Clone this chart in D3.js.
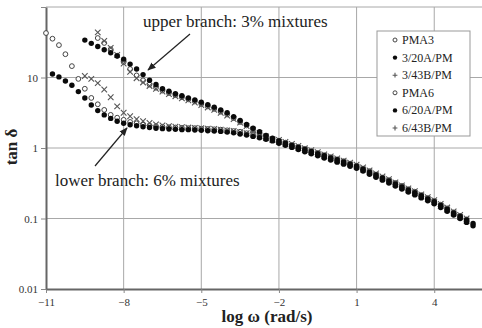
<!DOCTYPE html>
<html>
<head>
    <script src="https://d3js.org/d3.v7.min.js"></script>
    <style>
        body { margin: 0; background: #fff; }
    </style>
</head>
<body>
    <script>
        // shared log(omega) grid, rad/s
        const logW = [-11, -10.75, -10.5, -10.25, -10, -9.75, -9.5, -9.25, -9, -8.75, -8.5, -8.25,
            -8, -7.75, -7.5, -7.25, -7, -6.75, -6.5, -6.25, -6, -5.75, -5.5, -5.25,
            -5, -4.75, -4.5, -4.25, -4, -3.75, -3.5, -3.25, -3, -2.75, -2.5, -2.25,
            -2, -1.75, -1.5, -1.25, -1, -0.75, -0.5, -0.25, 0, 0.25, 0.5, 0.75,
            1, 1.25, 1.5, 1.75, 2, 2.25, 2.5, 2.75, 3, 3.25, 3.5, 3.75,
            4, 4.25, 4.5, 4.75, 5, 5.25, 5.5];

        // tan delta, aligned with logW (null = no measurement)
        const pma3 = [null, null, null, null, null, null, null, null,
            36.3, 30.9, 25.1, 20.4, 16.6, 13.2, 10.7, 9.12, 7.94, 7.16, 6.53, 6.03, 5.62, 5.25, 4.90, 4.57,
            4.22, 3.89, 3.59, 3.27, 2.99, 2.66, 2.34, 2.09, 1.84, 1.64, 1.48, 1.35,
            1.27, 1.19, 1.10, 1.04, 0.97, 0.90, 0.85, 0.79, 0.74, 0.69, 0.65, 0.60,
            0.56, 0.51, 0.47, 0.42, 0.38, 0.35, 0.32, 0.29, 0.26, 0.24, 0.215, 0.195,
            0.177, 0.157, 0.139, 0.122, 0.109, 0.097];
        const m3_20A = [null, null, null, null, null, null,
            33.9, 30.5, 27.5, 24.8, 22.4, 20.2, 18.2, 15.5, 13.2, 11.0, 9.12, 7.94, 6.92, 6.38, 5.89, 5.50, 5.13, 4.79,
            4.47, 4.12, 3.80, 3.47, 3.16, 2.79, 2.45, 2.16, 1.91, 1.70, 1.51, 1.38,
            1.26, 1.17, 1.09, 1.02, 0.95, 0.89, 0.83, 0.775, 0.725, 0.68, 0.635, 0.59,
            0.55, 0.50, 0.455, 0.415, 0.375, 0.34, 0.31, 0.28, 0.255, 0.232, 0.21, 0.19,
            0.173, 0.153, 0.136, 0.12, 0.107, 0.095, 0.085];
        const m3_43B = [null, null, null, null, null, null, null, null,
            43.7, 33.1, 26.3, 20.9, 15.8, 12.0, 9.77, 8.51, 7.59, 6.92, 6.31, 5.82, 5.43, 5.07, 4.73, 4.42,
            4.07, 3.76, 3.47, 3.16, 2.88, 2.57, 2.29, 2.04, 1.82, 1.62, 1.46, 1.33,
            1.30, 1.22, 1.14, 1.07, 0.99, 0.93, 0.87, 0.81, 0.76, 0.71, 0.66, 0.62,
            0.58, 0.53, 0.48, 0.435, 0.395, 0.36, 0.325, 0.295, 0.268, 0.244, 0.22, 0.20,
            0.182, 0.161, 0.143, 0.126, 0.112, 0.10];
        const pma6 = [42.7, 35.5, 28.8, 21.4, 14.5, 9.55, 6.92, 5.13, 4.17, 3.47, 2.95, 2.69,
            2.51, 2.34, 2.24, 2.14, 2.09, 2.04, 2.00, 1.97, 1.95, 1.93, 1.91, 1.91,
            1.88, 1.86, 1.84, 1.82, 1.78, 1.74, 1.70, 1.62, 1.55, 1.46, 1.38, 1.30,
            1.20, 1.12, 1.05, 0.98, 0.91, 0.85, 0.80, 0.745, 0.695, 0.65, 0.61, 0.57,
            0.53, 0.485, 0.44, 0.40, 0.36, 0.33, 0.30, 0.27, 0.245, 0.223, 0.202, 0.183,
            0.167, 0.147, 0.131, 0.115, 0.103, 0.091];
        const m6_20A = [null,
            11.2, 10.2, 8.91, 7.76, 6.31, 5.13, 4.07, 3.39, 2.95, 2.63, 2.40,
            2.24, 2.14, 2.07, 2.00, 1.95, 1.91, 1.88, 1.86, 1.84, 1.82, 1.82, 1.80,
            1.78, 1.76, 1.74, 1.72, 1.68, 1.64, 1.58, 1.53, 1.46, 1.40, 1.33, 1.26,
            1.17, 1.09, 1.02, 0.95, 0.885, 0.83, 0.775, 0.72, 0.675, 0.63, 0.59, 0.55,
            0.515, 0.47, 0.425, 0.385, 0.35, 0.318, 0.289, 0.262, 0.238, 0.216, 0.196, 0.178,
            0.162, 0.143, 0.127, 0.112, 0.1, 0.088, 0.079];
        const m6_43B = [null, null, null, null, null, null,
            10.5, 9.55, 8.32, 6.76, 5.25, 3.89, 3.16, 2.82, 2.57, 2.40, 2.26, 2.16, 2.09, 2.04, 2.00, 1.97, 1.95, 1.93,
            1.91, 1.88, 1.86, 1.82, 1.78, 1.74, 1.68, 1.62, 1.55, 1.46, 1.38, 1.30,
            1.22, 1.15, 1.07, 1.00, 0.935, 0.875, 0.82, 0.765, 0.715, 0.67, 0.625, 0.585,
            0.545, 0.495, 0.45, 0.41, 0.37, 0.337, 0.306, 0.278, 0.252, 0.229, 0.207, 0.188,
            0.171, 0.151, 0.134, 0.118, 0.105, 0.093];

        const seriesNames = ['PMA3', '3/20A/PM', '3/43B/PM', 'PMA6', '6/20A/PM', '6/43B/PM'];
        const seriesValues = [pma3, m3_20A, m3_43B, pma6, m6_20A, m6_43B];
        const seriesMarks = ['open', 'filled', 'cross', 'open', 'filled', 'cross'];

        const xTicks = [-11, -8, -5, -2, 1, 4];
        const yTicks = [0.01, 0.1, 1, 10, 100];
        const yTickLabels = ['0.01', '0.1', '1', '10', ''];

        const serif = "'Liberation Serif', 'DejaVu Serif', 'Times New Roman', serif";

        const W = 482, H = 328;
        const margin = { top: 7, left: 46 };
        const plotBottom = 289;

        const svg = d3.select('body')
            .append('svg')
            .attr('width', W)
            .attr('height', H)
            .attr('font-family', serif);

        const x = d3.scaleLinear().domain([-11, 6]).range([margin.left, 486]);
        const y = d3.scaleLog().domain([0.01, 100]).range([plotBottom, margin.top]);

        // grid
        svg.append('g').selectAll('line')
            .data(xTicks.slice(1))
            .join('line')
            .attr('x1', d => x(d)).attr('x2', d => x(d))
            .attr('y1', margin.top).attr('y2', plotBottom)
            .attr('stroke', '#a8a8a8').attr('stroke-width', 1);

        svg.append('g').selectAll('line')
            .data(yTicks.slice(1))
            .join('line')
            .attr('x1', margin.left).attr('x2', W)
            .attr('y1', d => y(d)).attr('y2', d => y(d))
            .attr('stroke', '#a8a8a8').attr('stroke-width', 1);

        // axes
        const xAxis = svg.append('g')
            .attr('transform', `translate(0,${plotBottom})`)
            .call(d3.axisBottom(x).tickValues(xTicks).tickSize(4).tickSizeOuter(0).tickPadding(5))
            .attr('font-family', serif);
        xAxis.select('.domain').attr('stroke', '#666').attr('stroke-width', 2);
        xAxis.selectAll('.tick line').attr('stroke', '#888');
        xAxis.selectAll('text').attr('font-size', 11).attr('fill', '#333');

        const yAxis = svg.append('g')
            .attr('transform', `translate(${margin.left},0)`)
            .call(d3.axisLeft(y).tickValues(yTicks).tickFormat((d, i) => yTickLabels[i])
                .tickSize(5).tickSizeOuter(0).tickPadding(3))
            .attr('font-family', serif);
        yAxis.select('.domain').attr('stroke', '#666').attr('stroke-width', 2);
        yAxis.selectAll('.tick line').attr('stroke', '#888');
        yAxis.selectAll('text').attr('font-size', 11).attr('fill', '#333');

        // markers
        function drawMark(g, kind, cx, cy, legend) {
            if (kind === 'open') {
                g.append('circle').attr('cx', cx).attr('cy', cy).attr('r', legend ? 2 : 2.4)
                    .attr('fill', '#fff').attr('stroke', '#444').attr('stroke-width', 1);
            } else if (kind === 'filled') {
                g.append('circle').attr('cx', cx).attr('cy', cy).attr('r', legend ? 2.2 : 2.7)
                    .attr('fill', '#0a0a0a');
            } else {
                const s = legend ? 2.4 : 2.8;
                const p = legend
                    ? `M${cx - s},${cy}L${cx + s},${cy}M${cx},${cy - s}L${cx},${cy + s}`
                    : `M${cx - s},${cy - s}L${cx + s},${cy + s}M${cx - s},${cy + s}L${cx + s},${cy - s}`;
                g.append('path').attr('d', p).attr('stroke', '#555').attr('stroke-width', 1.1)
                    .attr('fill', 'none');
            }
        }

        const drawOrder = [3, 0, 5, 2, 4, 1];
        const marks = svg.append('g');
        drawOrder.forEach(k => {
            const vals = seriesValues[k];
            logW.forEach((w, i) => {
                const v = vals[i];
                if (v == null) return;
                drawMark(marks, seriesMarks[k], x(w), y(v), false);
            });
        });

        // legend
        const lg = svg.append('g');
        lg.append('rect')
            .attr('x', 377).attr('y', 31).attr('width', 93).attr('height', 105)
            .attr('fill', '#fff').attr('stroke', '#999').attr('stroke-width', 1);
        seriesNames.forEach((name, i) => {
            const ry = 40 + i * 17.6;
            drawMark(lg, seriesMarks[i], 395, ry, true);
            lg.append('text')
                .attr('x', 402).attr('y', ry + 4)
                .attr('font-size', 12).attr('fill', '#222')
                .text(name);
        });

        // annotations
        svg.append('defs').append('marker')
            .attr('id', 'arrow').attr('viewBox', '0 0 10 10')
            .attr('refX', 9).attr('refY', 5)
            .attr('markerWidth', 7).attr('markerHeight', 7)
            .attr('orient', 'auto')
            .append('path').attr('d', 'M0,1L10,5L0,9Z').attr('fill', '#222');

        svg.append('text')
            .attr('x', 143).attr('y', 27)
            .attr('font-size', 17).attr('fill', '#222')
            .text('upper branch: 3% mixtures');
        svg.append('line')
            .attr('x1', 190).attr('y1', 34).attr('x2', 148).attr('y2', 70)
            .attr('stroke', '#222').attr('stroke-width', 1.2)
            .attr('marker-end', 'url(#arrow)');

        svg.append('text')
            .attr('x', 55).attr('y', 186)
            .attr('font-size', 17).attr('fill', '#222')
            .text('lower branch: 6% mixtures');
        svg.append('line')
            .attr('x1', 95).attr('y1', 166).attr('x2', 127).attr('y2', 128)
            .attr('stroke', '#222').attr('stroke-width', 1.2)
            .attr('marker-end', 'url(#arrow)');

        // axis titles
        svg.append('text')
            .attr('x', 267).attr('y', 322)
            .attr('text-anchor', 'middle')
            .attr('font-size', 17).attr('font-weight', 'bold').attr('fill', '#222')
            .text('log ω (rad/s)');

        svg.append('text')
            .attr('transform', 'translate(17,147) rotate(-90)')
            .attr('text-anchor', 'middle')
            .attr('font-size', 17).attr('font-weight', 'bold').attr('fill', '#222')
            .text('tan δ');
    </script>
</body>
</html>
